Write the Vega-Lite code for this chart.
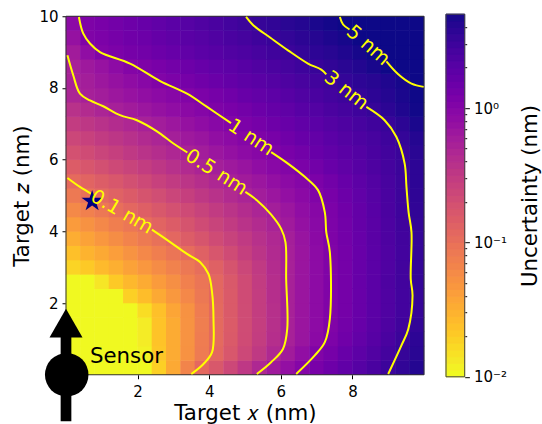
{"$schema":"https://vega.github.io/schema/vega-lite/v6.json","padding":{"left":11,"top":9,"right":40,"bottom":30},"bounds":"flush","center":true,"spacing":22,"config":{"view":{"stroke":null},"font":"DejaVu Sans","axis":{"grid":false,"labelColor":"#000","titleColor":"#000","tickColor":"#000","titleFontWeight":"normal"}},
"datasets":{"grid":[
{"x":0.2,"z":0.2,"u":0.01},{"x":0.6,"z":0.2,"u":0.01},{"x":1,"z":0.2,"u":0.01},{"x":1.4,"z":0.2,"u":0.01},{"x":1.8,"z":0.2,"u":0.01},{"x":2.2,"z":0.2,"u":0.01},{"x":2.6,"z":0.2,"u":0.018},{"x":3,"z":0.2,"u":0.033},{"x":3.4,"z":0.2,"u":0.063},{"x":3.8,"z":0.2,"u":0.11},{"x":4.2,"z":0.2,"u":0.155},{"x":4.6,"z":0.2,"u":0.22},{"x":5,"z":0.2,"u":0.31},{"x":5.4,"z":0.2,"u":0.44},{"x":5.8,"z":0.2,"u":0.59},{"x":6.2,"z":0.2,"u":0.74},{"x":6.6,"z":0.2,"u":0.93},{"x":7,"z":0.2,"u":1.15},{"x":7.4,"z":0.2,"u":1.38},{"x":7.8,"z":0.2,"u":1.66},{"x":8.2,"z":0.2,"u":2},{"x":8.6,"z":0.2,"u":2.4},{"x":9,"z":0.2,"u":2.9},{"x":9.4,"z":0.2,"u":3.4},{"x":9.8,"z":0.2,"u":4},
{"x":0.2,"z":0.6,"u":0.01},{"x":0.6,"z":0.6,"u":0.01},{"x":1,"z":0.6,"u":0.01},{"x":1.4,"z":0.6,"u":0.01},{"x":1.8,"z":0.6,"u":0.01},{"x":2.2,"z":0.6,"u":0.011},{"x":2.6,"z":0.6,"u":0.021},{"x":3,"z":0.6,"u":0.032},{"x":3.4,"z":0.6,"u":0.05},{"x":3.8,"z":0.6,"u":0.076},{"x":4.2,"z":0.6,"u":0.112},{"x":4.6,"z":0.6,"u":0.158},{"x":5,"z":0.6,"u":0.22},{"x":5.4,"z":0.6,"u":0.3},{"x":5.8,"z":0.6,"u":0.43},{"x":6.2,"z":0.6,"u":0.575},{"x":6.6,"z":0.6,"u":0.76},{"x":7,"z":0.6,"u":1},{"x":7.4,"z":0.6,"u":1.2},{"x":7.8,"z":0.6,"u":1.48},{"x":8.2,"z":0.6,"u":1.78},{"x":8.6,"z":0.6,"u":2.15},{"x":9,"z":0.6,"u":2.6},{"x":9.4,"z":0.6,"u":3.16},{"x":9.8,"z":0.6,"u":3.7},
{"x":0.2,"z":1,"u":0.01},{"x":0.6,"z":1,"u":0.01},{"x":1,"z":1,"u":0.01},{"x":1.4,"z":1,"u":0.01},{"x":1.8,"z":1,"u":0.01},{"x":2.2,"z":1,"u":0.012},{"x":2.6,"z":1,"u":0.022},{"x":3,"z":1,"u":0.032},{"x":3.4,"z":1,"u":0.049},{"x":3.8,"z":1,"u":0.074},{"x":4.2,"z":1,"u":0.107},{"x":4.6,"z":1,"u":0.148},{"x":5,"z":1,"u":0.204},{"x":5.4,"z":1,"u":0.275},{"x":5.8,"z":1,"u":0.38},{"x":6.2,"z":1,"u":0.51},{"x":6.6,"z":1,"u":0.66},{"x":7,"z":1,"u":0.85},{"x":7.4,"z":1,"u":1.07},{"x":7.8,"z":1,"u":1.32},{"x":8.2,"z":1,"u":1.62},{"x":8.6,"z":1,"u":1.95},{"x":9,"z":1,"u":2.4},{"x":9.4,"z":1,"u":2.95},{"x":9.8,"z":1,"u":3.55},
{"x":0.2,"z":1.4,"u":0.01},{"x":0.6,"z":1.4,"u":0.01},{"x":1,"z":1.4,"u":0.01},{"x":1.4,"z":1.4,"u":0.01},{"x":1.8,"z":1.4,"u":0.01},{"x":2.2,"z":1.4,"u":0.012},{"x":2.6,"z":1.4,"u":0.022},{"x":3,"z":1.4,"u":0.032},{"x":3.4,"z":1.4,"u":0.049},{"x":3.8,"z":1.4,"u":0.072},{"x":4.2,"z":1.4,"u":0.107},{"x":4.6,"z":1.4,"u":0.145},{"x":5,"z":1.4,"u":0.2},{"x":5.4,"z":1.4,"u":0.27},{"x":5.8,"z":1.4,"u":0.37},{"x":6.2,"z":1.4,"u":0.51},{"x":6.6,"z":1.4,"u":0.65},{"x":7,"z":1.4,"u":0.81},{"x":7.4,"z":1.4,"u":1.02},{"x":7.8,"z":1.4,"u":1.26},{"x":8.2,"z":1.4,"u":1.51},{"x":8.6,"z":1.4,"u":1.86},{"x":9,"z":1.4,"u":2.24},{"x":9.4,"z":1.4,"u":2.75},{"x":9.8,"z":1.4,"u":3.3},
{"x":0.2,"z":1.8,"u":0.01},{"x":0.6,"z":1.8,"u":0.01},{"x":1,"z":1.8,"u":0.01},{"x":1.4,"z":1.8,"u":0.01},{"x":1.8,"z":1.8,"u":0.01},{"x":2.2,"z":1.8,"u":0.015},{"x":2.6,"z":1.8,"u":0.023},{"x":3,"z":1.8,"u":0.035},{"x":3.4,"z":1.8,"u":0.05},{"x":3.8,"z":1.8,"u":0.074},{"x":4.2,"z":1.8,"u":0.107},{"x":4.6,"z":1.8,"u":0.148},{"x":5,"z":1.8,"u":0.2},{"x":5.4,"z":1.8,"u":0.275},{"x":5.8,"z":1.8,"u":0.37},{"x":6.2,"z":1.8,"u":0.51},{"x":6.6,"z":1.8,"u":0.65},{"x":7,"z":1.8,"u":0.81},{"x":7.4,"z":1.8,"u":1.02},{"x":7.8,"z":1.8,"u":1.23},{"x":8.2,"z":1.8,"u":1.48},{"x":8.6,"z":1.8,"u":1.82},{"x":9,"z":1.8,"u":2.19},{"x":9.4,"z":1.8,"u":2.63},{"x":9.8,"z":1.8,"u":3.16},
{"x":0.2,"z":2.2,"u":0.01},{"x":0.6,"z":2.2,"u":0.01},{"x":1,"z":2.2,"u":0.01},{"x":1.4,"z":2.2,"u":0.01},{"x":1.8,"z":2.2,"u":0.018},{"x":2.2,"z":2.2,"u":0.024},{"x":2.6,"z":2.2,"u":0.033},{"x":3,"z":2.2,"u":0.044},{"x":3.4,"z":2.2,"u":0.059},{"x":3.8,"z":2.2,"u":0.081},{"x":4.2,"z":2.2,"u":0.11},{"x":4.6,"z":2.2,"u":0.148},{"x":5,"z":2.2,"u":0.204},{"x":5.4,"z":2.2,"u":0.275},{"x":5.8,"z":2.2,"u":0.38},{"x":6.2,"z":2.2,"u":0.51},{"x":6.6,"z":2.2,"u":0.65},{"x":7,"z":2.2,"u":0.81},{"x":7.4,"z":2.2,"u":1.02},{"x":7.8,"z":2.2,"u":1.23},{"x":8.2,"z":2.2,"u":1.48},{"x":8.6,"z":2.2,"u":1.82},{"x":9,"z":2.2,"u":2.19},{"x":9.4,"z":2.2,"u":2.63},{"x":9.8,"z":2.2,"u":3.16},
{"x":0.2,"z":2.6,"u":0.01},{"x":0.6,"z":2.6,"u":0.01},{"x":1,"z":2.6,"u":0.013},{"x":1.4,"z":2.6,"u":0.02},{"x":1.8,"z":2.6,"u":0.026},{"x":2.2,"z":2.6,"u":0.032},{"x":2.6,"z":2.6,"u":0.042},{"x":3,"z":2.6,"u":0.052},{"x":3.4,"z":2.6,"u":0.068},{"x":3.8,"z":2.6,"u":0.085},{"x":4.2,"z":2.6,"u":0.112},{"x":4.6,"z":2.6,"u":0.151},{"x":5,"z":2.6,"u":0.204},{"x":5.4,"z":2.6,"u":0.28},{"x":5.8,"z":2.6,"u":0.38},{"x":6.2,"z":2.6,"u":0.51},{"x":6.6,"z":2.6,"u":0.65},{"x":7,"z":2.6,"u":0.81},{"x":7.4,"z":2.6,"u":1.02},{"x":7.8,"z":2.6,"u":1.23},{"x":8.2,"z":2.6,"u":1.51},{"x":8.6,"z":2.6,"u":1.82},{"x":9,"z":2.6,"u":2.24},{"x":9.4,"z":2.6,"u":2.69},{"x":9.8,"z":2.6,"u":3.24},
{"x":0.2,"z":3,"u":0.017},{"x":0.6,"z":3,"u":0.02},{"x":1,"z":3,"u":0.025},{"x":1.4,"z":3,"u":0.03},{"x":1.8,"z":3,"u":0.037},{"x":2.2,"z":3,"u":0.045},{"x":2.6,"z":3,"u":0.055},{"x":3,"z":3,"u":0.066},{"x":3.4,"z":3,"u":0.081},{"x":3.8,"z":3,"u":0.098},{"x":4.2,"z":3,"u":0.129},{"x":4.6,"z":3,"u":0.17},{"x":5,"z":3,"u":0.224},{"x":5.4,"z":3,"u":0.295},{"x":5.8,"z":3,"u":0.4},{"x":6.2,"z":3,"u":0.51},{"x":6.6,"z":3,"u":0.65},{"x":7,"z":3,"u":0.81},{"x":7.4,"z":3,"u":1.02},{"x":7.8,"z":3,"u":1.23},{"x":8.2,"z":3,"u":1.51},{"x":8.6,"z":3,"u":1.82},{"x":9,"z":3,"u":2.19},{"x":9.4,"z":3,"u":2.69},{"x":9.8,"z":3,"u":3.24},
{"x":0.2,"z":3.4,"u":0.023},{"x":0.6,"z":3.4,"u":0.028},{"x":1,"z":3.4,"u":0.033},{"x":1.4,"z":3.4,"u":0.04},{"x":1.8,"z":3.4,"u":0.049},{"x":2.2,"z":3.4,"u":0.059},{"x":2.6,"z":3.4,"u":0.071},{"x":3,"z":3.4,"u":0.085},{"x":3.4,"z":3.4,"u":0.102},{"x":3.8,"z":3.4,"u":0.129},{"x":4.2,"z":3.4,"u":0.162},{"x":4.6,"z":3.4,"u":0.204},{"x":5,"z":3.4,"u":0.263},{"x":5.4,"z":3.4,"u":0.33},{"x":5.8,"z":3.4,"u":0.417},{"x":6.2,"z":3.4,"u":0.525},{"x":6.6,"z":3.4,"u":0.65},{"x":7,"z":3.4,"u":0.81},{"x":7.4,"z":3.4,"u":1.02},{"x":7.8,"z":3.4,"u":1.23},{"x":8.2,"z":3.4,"u":1.48},{"x":8.6,"z":3.4,"u":1.82},{"x":9,"z":3.4,"u":2.19},{"x":9.4,"z":3.4,"u":2.63},{"x":9.8,"z":3.4,"u":3.24},
{"x":0.2,"z":3.8,"u":0.031},{"x":0.6,"z":3.8,"u":0.037},{"x":1,"z":3.8,"u":0.045},{"x":1.4,"z":3.8,"u":0.054},{"x":1.8,"z":3.8,"u":0.065},{"x":2.2,"z":3.8,"u":0.078},{"x":2.6,"z":3.8,"u":0.093},{"x":3,"z":3.8,"u":0.112},{"x":3.4,"z":3.8,"u":0.138},{"x":3.8,"z":3.8,"u":0.166},{"x":4.2,"z":3.8,"u":0.204},{"x":4.6,"z":3.8,"u":0.245},{"x":5,"z":3.8,"u":0.295},{"x":5.4,"z":3.8,"u":0.363},{"x":5.8,"z":3.8,"u":0.437},{"x":6.2,"z":3.8,"u":0.537},{"x":6.6,"z":3.8,"u":0.676},{"x":7,"z":3.8,"u":0.85},{"x":7.4,"z":3.8,"u":1.05},{"x":7.8,"z":3.8,"u":1.26},{"x":8.2,"z":3.8,"u":1.51},{"x":8.6,"z":3.8,"u":1.86},{"x":9,"z":3.8,"u":2.24},{"x":9.4,"z":3.8,"u":2.69},{"x":9.8,"z":3.8,"u":3.24},
{"x":0.2,"z":4.2,"u":0.042},{"x":0.6,"z":4.2,"u":0.05},{"x":1,"z":4.2,"u":0.059},{"x":1.4,"z":4.2,"u":0.071},{"x":1.8,"z":4.2,"u":0.083},{"x":2.2,"z":4.2,"u":0.1},{"x":2.6,"z":4.2,"u":0.12},{"x":3,"z":4.2,"u":0.141},{"x":3.4,"z":4.2,"u":0.17},{"x":3.8,"z":4.2,"u":0.204},{"x":4.2,"z":4.2,"u":0.24},{"x":4.6,"z":4.2,"u":0.288},{"x":5,"z":4.2,"u":0.347},{"x":5.4,"z":4.2,"u":0.407},{"x":5.8,"z":4.2,"u":0.49},{"x":6.2,"z":4.2,"u":0.589},{"x":6.6,"z":4.2,"u":0.724},{"x":7,"z":4.2,"u":0.87},{"x":7.4,"z":4.2,"u":1.07},{"x":7.8,"z":4.2,"u":1.29},{"x":8.2,"z":4.2,"u":1.55},{"x":8.6,"z":4.2,"u":1.86},{"x":9,"z":4.2,"u":2.29},{"x":9.4,"z":4.2,"u":2.75},{"x":9.8,"z":4.2,"u":3.31},
{"x":0.2,"z":4.6,"u":0.058},{"x":0.6,"z":4.6,"u":0.068},{"x":1,"z":4.6,"u":0.081},{"x":1.4,"z":4.6,"u":0.095},{"x":1.8,"z":4.6,"u":0.112},{"x":2.2,"z":4.6,"u":0.132},{"x":2.6,"z":4.6,"u":0.155},{"x":3,"z":4.6,"u":0.182},{"x":3.4,"z":4.6,"u":0.209},{"x":3.8,"z":4.6,"u":0.245},{"x":4.2,"z":4.6,"u":0.288},{"x":4.6,"z":4.6,"u":0.339},{"x":5,"z":4.6,"u":0.398},{"x":5.4,"z":4.6,"u":0.468},{"x":5.8,"z":4.6,"u":0.55},{"x":6.2,"z":4.6,"u":0.646},{"x":6.6,"z":4.6,"u":0.776},{"x":7,"z":4.6,"u":0.912},{"x":7.4,"z":4.6,"u":1.1},{"x":7.8,"z":4.6,"u":1.32},{"x":8.2,"z":4.6,"u":1.58},{"x":8.6,"z":4.6,"u":1.91},{"x":9,"z":4.6,"u":2.34},{"x":9.4,"z":4.6,"u":2.82},{"x":9.8,"z":4.6,"u":3.39},
{"x":0.2,"z":5,"u":0.079},{"x":0.6,"z":5,"u":0.093},{"x":1,"z":5,"u":0.107},{"x":1.4,"z":5,"u":0.126},{"x":1.8,"z":5,"u":0.145},{"x":2.2,"z":5,"u":0.17},{"x":2.6,"z":5,"u":0.195},{"x":3,"z":5,"u":0.229},{"x":3.4,"z":5,"u":0.263},{"x":3.8,"z":5,"u":0.309},{"x":4.2,"z":5,"u":0.355},{"x":4.6,"z":5,"u":0.417},{"x":5,"z":5,"u":0.479},{"x":5.4,"z":5,"u":0.562},{"x":5.8,"z":5,"u":0.646},{"x":6.2,"z":5,"u":0.741},{"x":6.6,"z":5,"u":0.851},{"x":7,"z":5,"u":1},{"x":7.4,"z":5,"u":1.17},{"x":7.8,"z":5,"u":1.41},{"x":8.2,"z":5,"u":1.66},{"x":8.6,"z":5,"u":2},{"x":9,"z":5,"u":2.4},{"x":9.4,"z":5,"u":2.88},{"x":9.8,"z":5,"u":3.47},
{"x":0.2,"z":5.4,"u":0.105},{"x":0.6,"z":5.4,"u":0.12},{"x":1,"z":5.4,"u":0.138},{"x":1.4,"z":5.4,"u":0.158},{"x":1.8,"z":5.4,"u":0.186},{"x":2.2,"z":5.4,"u":0.214},{"x":2.6,"z":5.4,"u":0.251},{"x":3,"z":5.4,"u":0.288},{"x":3.4,"z":5.4,"u":0.331},{"x":3.8,"z":5.4,"u":0.38},{"x":4.2,"z":5.4,"u":0.447},{"x":4.6,"z":5.4,"u":0.513},{"x":5,"z":5.4,"u":0.575},{"x":5.4,"z":5.4,"u":0.646},{"x":5.8,"z":5.4,"u":0.741},{"x":6.2,"z":5.4,"u":0.832},{"x":6.6,"z":5.4,"u":0.933},{"x":7,"z":5.4,"u":1.1},{"x":7.4,"z":5.4,"u":1.29},{"x":7.8,"z":5.4,"u":1.51},{"x":8.2,"z":5.4,"u":1.78},{"x":8.6,"z":5.4,"u":2.09},{"x":9,"z":5.4,"u":2.45},{"x":9.4,"z":5.4,"u":2.88},{"x":9.8,"z":5.4,"u":3.55},
{"x":0.2,"z":5.8,"u":0.141},{"x":0.6,"z":5.8,"u":0.162},{"x":1,"z":5.8,"u":0.186},{"x":1.4,"z":5.8,"u":0.214},{"x":1.8,"z":5.8,"u":0.24},{"x":2.2,"z":5.8,"u":0.275},{"x":2.6,"z":5.8,"u":0.316},{"x":3,"z":5.8,"u":0.363},{"x":3.4,"z":5.8,"u":0.417},{"x":3.8,"z":5.8,"u":0.479},{"x":4.2,"z":5.8,"u":0.537},{"x":4.6,"z":5.8,"u":0.603},{"x":5,"z":5.8,"u":0.676},{"x":5.4,"z":5.8,"u":0.776},{"x":5.8,"z":5.8,"u":0.871},{"x":6.2,"z":5.8,"u":0.977},{"x":6.6,"z":5.8,"u":1.12},{"x":7,"z":5.8,"u":1.29},{"x":7.4,"z":5.8,"u":1.48},{"x":7.8,"z":5.8,"u":1.7},{"x":8.2,"z":5.8,"u":1.95},{"x":8.6,"z":5.8,"u":2.24},{"x":9,"z":5.8,"u":2.57},{"x":9.4,"z":5.8,"u":2.95},{"x":9.8,"z":5.8,"u":3.55},
{"x":0.2,"z":6.2,"u":0.182},{"x":0.6,"z":6.2,"u":0.204},{"x":1,"z":6.2,"u":0.234},{"x":1.4,"z":6.2,"u":0.263},{"x":1.8,"z":6.2,"u":0.302},{"x":2.2,"z":6.2,"u":0.347},{"x":2.6,"z":6.2,"u":0.389},{"x":3,"z":6.2,"u":0.447},{"x":3.4,"z":6.2,"u":0.501},{"x":3.8,"z":6.2,"u":0.562},{"x":4.2,"z":6.2,"u":0.646},{"x":4.6,"z":6.2,"u":0.724},{"x":5,"z":6.2,"u":0.813},{"x":5.4,"z":6.2,"u":0.912},{"x":5.8,"z":6.2,"u":1.02},{"x":6.2,"z":6.2,"u":1.15},{"x":6.6,"z":6.2,"u":1.29},{"x":7,"z":6.2,"u":1.48},{"x":7.4,"z":6.2,"u":1.66},{"x":7.8,"z":6.2,"u":1.86},{"x":8.2,"z":6.2,"u":2.09},{"x":8.6,"z":6.2,"u":2.4},{"x":9,"z":6.2,"u":2.69},{"x":9.4,"z":6.2,"u":3.02},{"x":9.8,"z":6.2,"u":3.72},
{"x":0.2,"z":6.6,"u":0.224},{"x":0.6,"z":6.6,"u":0.251},{"x":1,"z":6.6,"u":0.288},{"x":1.4,"z":6.6,"u":0.324},{"x":1.8,"z":6.6,"u":0.363},{"x":2.2,"z":6.6,"u":0.417},{"x":2.6,"z":6.6,"u":0.468},{"x":3,"z":6.6,"u":0.537},{"x":3.4,"z":6.6,"u":0.603},{"x":3.8,"z":6.6,"u":0.661},{"x":4.2,"z":6.6,"u":0.759},{"x":4.6,"z":6.6,"u":0.832},{"x":5,"z":6.6,"u":0.933},{"x":5.4,"z":6.6,"u":1.05},{"x":5.8,"z":6.6,"u":1.17},{"x":6.2,"z":6.6,"u":1.32},{"x":6.6,"z":6.6,"u":1.48},{"x":7,"z":6.6,"u":1.62},{"x":7.4,"z":6.6,"u":1.82},{"x":7.8,"z":6.6,"u":2.04},{"x":8.2,"z":6.6,"u":2.29},{"x":8.6,"z":6.6,"u":2.51},{"x":9,"z":6.6,"u":2.82},{"x":9.4,"z":6.6,"u":3.24},{"x":9.8,"z":6.6,"u":3.98},
{"x":0.2,"z":7,"u":0.282},{"x":0.6,"z":7,"u":0.316},{"x":1,"z":7,"u":0.355},{"x":1.4,"z":7,"u":0.398},{"x":1.8,"z":7,"u":0.447},{"x":2.2,"z":7,"u":0.513},{"x":2.6,"z":7,"u":0.562},{"x":3,"z":7,"u":0.631},{"x":3.4,"z":7,"u":0.708},{"x":3.8,"z":7,"u":0.794},{"x":4.2,"z":7,"u":0.891},{"x":4.6,"z":7,"u":0.977},{"x":5,"z":7,"u":1.1},{"x":5.4,"z":7,"u":1.2},{"x":5.8,"z":7,"u":1.35},{"x":6.2,"z":7,"u":1.48},{"x":6.6,"z":7,"u":1.66},{"x":7,"z":7,"u":1.82},{"x":7.4,"z":7,"u":2.04},{"x":7.8,"z":7,"u":2.24},{"x":8.2,"z":7,"u":2.51},{"x":8.6,"z":7,"u":2.75},{"x":9,"z":7,"u":3.09},{"x":9.4,"z":7,"u":3.63},{"x":9.8,"z":7,"u":4.37},
{"x":0.2,"z":7.4,"u":0.355},{"x":0.6,"z":7.4,"u":0.407},{"x":1,"z":7.4,"u":0.468},{"x":1.4,"z":7.4,"u":0.525},{"x":1.8,"z":7.4,"u":0.575},{"x":2.2,"z":7.4,"u":0.646},{"x":2.6,"z":7.4,"u":0.708},{"x":3,"z":7.4,"u":0.776},{"x":3.4,"z":7.4,"u":0.851},{"x":3.8,"z":7.4,"u":0.933},{"x":4.2,"z":7.4,"u":1.05},{"x":4.6,"z":7.4,"u":1.15},{"x":5,"z":7.4,"u":1.26},{"x":5.4,"z":7.4,"u":1.41},{"x":5.8,"z":7.4,"u":1.55},{"x":6.2,"z":7.4,"u":1.7},{"x":6.6,"z":7.4,"u":1.91},{"x":7,"z":7.4,"u":2.09},{"x":7.4,"z":7.4,"u":2.34},{"x":7.8,"z":7.4,"u":2.57},{"x":8.2,"z":7.4,"u":2.82},{"x":8.6,"z":7.4,"u":3.16},{"x":9,"z":7.4,"u":3.63},{"x":9.4,"z":7.4,"u":4.17},{"x":9.8,"z":7.4,"u":4.79},
{"x":0.2,"z":7.8,"u":0.468},{"x":0.6,"z":7.8,"u":0.525},{"x":1,"z":7.8,"u":0.562},{"x":1.4,"z":7.8,"u":0.631},{"x":1.8,"z":7.8,"u":0.692},{"x":2.2,"z":7.8,"u":0.759},{"x":2.6,"z":7.8,"u":0.832},{"x":3,"z":7.8,"u":0.912},{"x":3.4,"z":7.8,"u":0.99},{"x":3.8,"z":7.8,"u":1.1},{"x":4.2,"z":7.8,"u":1.2},{"x":4.6,"z":7.8,"u":1.32},{"x":5,"z":7.8,"u":1.48},{"x":5.4,"z":7.8,"u":1.62},{"x":5.8,"z":7.8,"u":1.78},{"x":6.2,"z":7.8,"u":1.95},{"x":6.6,"z":7.8,"u":2.19},{"x":7,"z":7.8,"u":2.4},{"x":7.4,"z":7.8,"u":2.63},{"x":7.8,"z":7.8,"u":2.88},{"x":8.2,"z":7.8,"u":3.24},{"x":8.6,"z":7.8,"u":3.55},{"x":9,"z":7.8,"u":3.98},{"x":9.4,"z":7.8,"u":4.37},{"x":9.8,"z":7.8,"u":4.9},
{"x":0.2,"z":8.2,"u":0.501},{"x":0.6,"z":8.2,"u":0.55},{"x":1,"z":8.2,"u":0.631},{"x":1.4,"z":8.2,"u":0.708},{"x":1.8,"z":8.2,"u":0.794},{"x":2.2,"z":8.2,"u":0.891},{"x":2.6,"z":8.2,"u":1},{"x":3,"z":8.2,"u":1.1},{"x":3.4,"z":8.2,"u":1.2},{"x":3.8,"z":8.2,"u":1.32},{"x":4.2,"z":8.2,"u":1.45},{"x":4.6,"z":8.2,"u":1.58},{"x":5,"z":8.2,"u":1.74},{"x":5.4,"z":8.2,"u":1.86},{"x":5.8,"z":8.2,"u":2.04},{"x":6.2,"z":8.2,"u":2.24},{"x":6.6,"z":8.2,"u":2.45},{"x":7,"z":8.2,"u":2.69},{"x":7.4,"z":8.2,"u":2.95},{"x":7.8,"z":8.2,"u":3.24},{"x":8.2,"z":8.2,"u":3.55},{"x":8.6,"z":8.2,"u":3.8},{"x":9,"z":8.2,"u":4.17},{"x":9.4,"z":8.2,"u":4.57},{"x":9.8,"z":8.2,"u":5},
{"x":0.2,"z":8.6,"u":0.513},{"x":0.6,"z":8.6,"u":0.603},{"x":1,"z":8.6,"u":0.692},{"x":1.4,"z":8.6,"u":0.813},{"x":1.8,"z":8.6,"u":0.955},{"x":2.2,"z":8.6,"u":1.05},{"x":2.6,"z":8.6,"u":1.15},{"x":3,"z":8.6,"u":1.26},{"x":3.4,"z":8.6,"u":1.38},{"x":3.8,"z":8.6,"u":1.51},{"x":4.2,"z":8.6,"u":1.66},{"x":4.6,"z":8.6,"u":1.78},{"x":5,"z":8.6,"u":1.95},{"x":5.4,"z":8.6,"u":2.14},{"x":5.8,"z":8.6,"u":2.34},{"x":6.2,"z":8.6,"u":2.57},{"x":6.6,"z":8.6,"u":2.82},{"x":7,"z":8.6,"u":3.09},{"x":7.4,"z":8.6,"u":3.39},{"x":7.8,"z":8.6,"u":3.72},{"x":8.2,"z":8.6,"u":4.07},{"x":8.6,"z":8.6,"u":4.47},{"x":9,"z":8.6,"u":4.9},{"x":9.4,"z":8.6,"u":5.37},{"x":9.8,"z":8.6,"u":5.89},
{"x":0.2,"z":9,"u":0.575},{"x":0.6,"z":9,"u":0.776},{"x":1,"z":9,"u":1},{"x":1.4,"z":9,"u":1.1},{"x":1.8,"z":9,"u":1.2},{"x":2.2,"z":9,"u":1.29},{"x":2.6,"z":9,"u":1.41},{"x":3,"z":9,"u":1.51},{"x":3.4,"z":9,"u":1.66},{"x":3.8,"z":9,"u":1.82},{"x":4.2,"z":9,"u":1.95},{"x":4.6,"z":9,"u":2.14},{"x":5,"z":9,"u":2.29},{"x":5.4,"z":9,"u":2.51},{"x":5.8,"z":9,"u":2.75},{"x":6.2,"z":9,"u":2.95},{"x":6.6,"z":9,"u":3.24},{"x":7,"z":9,"u":3.55},{"x":7.4,"z":9,"u":3.8},{"x":7.8,"z":9,"u":4.17},{"x":8.2,"z":9,"u":4.57},{"x":8.6,"z":9,"u":5},{"x":9,"z":9,"u":5.37},{"x":9.4,"z":9,"u":5.75},{"x":9.8,"z":9,"u":6.31},
{"x":0.2,"z":9.4,"u":0.708},{"x":0.6,"z":9.4,"u":1.02},{"x":1,"z":9.4,"u":1.1},{"x":1.4,"z":9.4,"u":1.2},{"x":1.8,"z":9.4,"u":1.32},{"x":2.2,"z":9.4,"u":1.41},{"x":2.6,"z":9.4,"u":1.55},{"x":3,"z":9.4,"u":1.7},{"x":3.4,"z":9.4,"u":1.86},{"x":3.8,"z":9.4,"u":2},{"x":4.2,"z":9.4,"u":2.19},{"x":4.6,"z":9.4,"u":2.4},{"x":5,"z":9.4,"u":2.57},{"x":5.4,"z":9.4,"u":2.82},{"x":5.8,"z":9.4,"u":3.09},{"x":6.2,"z":9.4,"u":3.31},{"x":6.6,"z":9.4,"u":3.63},{"x":7,"z":9.4,"u":3.89},{"x":7.4,"z":9.4,"u":4.27},{"x":7.8,"z":9.4,"u":4.57},{"x":8.2,"z":9.4,"u":5},{"x":8.6,"z":9.4,"u":5.37},{"x":9,"z":9.4,"u":5.75},{"x":9.4,"z":9.4,"u":6.17},{"x":9.8,"z":9.4,"u":6.76},
{"x":0.2,"z":9.8,"u":0.832},{"x":0.6,"z":9.8,"u":1.05},{"x":1,"z":9.8,"u":1.15},{"x":1.4,"z":9.8,"u":1.26},{"x":1.8,"z":9.8,"u":1.38},{"x":2.2,"z":9.8,"u":1.51},{"x":2.6,"z":9.8,"u":1.66},{"x":3,"z":9.8,"u":1.82},{"x":3.4,"z":9.8,"u":2},{"x":3.8,"z":9.8,"u":2.19},{"x":4.2,"z":9.8,"u":2.4},{"x":4.6,"z":9.8,"u":2.63},{"x":5,"z":9.8,"u":2.88},{"x":5.4,"z":9.8,"u":3.16},{"x":5.8,"z":9.8,"u":3.39},{"x":6.2,"z":9.8,"u":3.72},{"x":6.6,"z":9.8,"u":3.98},{"x":7,"z":9.8,"u":4.37},{"x":7.4,"z":9.8,"u":4.68},{"x":7.8,"z":9.8,"u":5.13},{"x":8.2,"z":9.8,"u":5.5},{"x":8.6,"z":9.8,"u":5.89},{"x":9,"z":9.8,"u":6.31},{"x":9.4,"z":9.8,"u":6.76},{"x":9.8,"z":9.8,"u":7.24}
],
"contours":[
{"seg":"5a","i":1,"x":7.65,"z":9.98},{"seg":"5a","i":2,"x":7.74,"z":9.77},{"seg":"5a","i":3,"x":7.92,"z":9.63},
{"seg":"5b","i":1,"x":8.95,"z":8.74},{"seg":"5b","i":2,"x":9.28,"z":8.38},{"seg":"5b","i":3,"x":9.65,"z":8.12},{"seg":"5b","i":4,"x":9.99,"z":8.03},
{"seg":"3a","i":1,"x":5.03,"z":9.98},{"seg":"3a","i":2,"x":5.23,"z":9.75},{"seg":"3a","i":3,"x":5.71,"z":9.4},{"seg":"3a","i":4,"x":6.2,"z":9.05},{"seg":"3a","i":5,"x":6.76,"z":8.68},{"seg":"3a","i":6,"x":7.13,"z":8.51},{"seg":"3a","i":7,"x":7.27,"z":8.38},
{"seg":"3b","i":1,"x":8.39,"z":7.47},{"seg":"3b","i":2,"x":8.9,"z":7.1},{"seg":"3b","i":3,"x":9.23,"z":6.63},{"seg":"3b","i":4,"x":9.46,"z":5.89},{"seg":"3b","i":5,"x":9.51,"z":5.24},{"seg":"3b","i":6,"x":9.57,"z":4.53},{"seg":"3b","i":7,"x":9.65,"z":3.98},{"seg":"3b","i":8,"x":9.63,"z":2.67},{"seg":"3b","i":9,"x":9.68,"z":2.21},{"seg":"3b","i":10,"x":9.56,"z":1.27},{"seg":"3b","i":11,"x":9.37,"z":0.82},{"seg":"3b","i":12,"x":9,"z":0.02},
{"seg":"1a","i":1,"x":0.36,"z":9.98},{"seg":"1a","i":2,"x":0.48,"z":9.52},{"seg":"1a","i":3,"x":0.67,"z":9.24},{"seg":"1a","i":4,"x":0.95,"z":9},{"seg":"1a","i":5,"x":1.79,"z":8.68},{"seg":"1a","i":6,"x":2.63,"z":8.19},{"seg":"1a","i":7,"x":3.38,"z":7.84},{"seg":"1a","i":8,"x":3.94,"z":7.47},{"seg":"1a","i":9,"x":4.61,"z":7.02},
{"seg":"1b","i":1,"x":5.73,"z":6.21},{"seg":"1b","i":2,"x":6.2,"z":5.89},{"seg":"1b","i":3,"x":6.67,"z":5.52},{"seg":"1b","i":4,"x":7.04,"z":5.15},{"seg":"1b","i":5,"x":7.23,"z":4.53},{"seg":"1b","i":6,"x":7.27,"z":3.98},{"seg":"1b","i":7,"x":7.37,"z":3.42},{"seg":"1b","i":8,"x":7.37,"z":1.56},{"seg":"1b","i":9,"x":7.23,"z":0.91},{"seg":"1b","i":10,"x":6.95,"z":0.54},{"seg":"1b","i":11,"x":6.43,"z":0.02},
{"seg":"05a","i":1,"x":0.04,"z":8.91},{"seg":"05a","i":2,"x":0.2,"z":8.36},{"seg":"05a","i":3,"x":0.39,"z":7.84},{"seg":"05a","i":4,"x":0.67,"z":7.65},{"seg":"05a","i":5,"x":1.04,"z":7.49},{"seg":"05a","i":6,"x":1.51,"z":7.24},{"seg":"05a","i":7,"x":1.98,"z":7.1},{"seg":"05a","i":8,"x":2.54,"z":6.79},{"seg":"05a","i":9,"x":3,"z":6.45},{"seg":"05a","i":10,"x":3.39,"z":6.2},
{"seg":"05b","i":1,"x":5.01,"z":5.1},{"seg":"05b","i":2,"x":5.33,"z":4.87},{"seg":"05b","i":3,"x":5.72,"z":4.48},{"seg":"05b","i":5,"x":6.01,"z":4.07},{"seg":"05b","i":6,"x":6.13,"z":3.7},{"seg":"05b","i":7,"x":6.15,"z":2.67},{"seg":"05b","i":8,"x":6.18,"z":1.28},{"seg":"05b","i":9,"x":6.06,"z":0.72},{"seg":"05b","i":10,"x":5.73,"z":0.35},{"seg":"05b","i":11,"x":5.33,"z":0.02},
{"seg":"01a","i":1,"x":0.04,"z":5.49},{"seg":"01a","i":2,"x":0.39,"z":5.24},{"seg":"01a","i":3,"x":0.72,"z":5.04},
{"seg":"01b","i":1,"x":2.4,"z":4.05},{"seg":"01b","i":2,"x":2.91,"z":3.7},{"seg":"01b","i":3,"x":3.38,"z":3.37},{"seg":"01b","i":4,"x":3.75,"z":3.14},{"seg":"01b","i":5,"x":3.98,"z":2.81},{"seg":"01b","i":6,"x":4.08,"z":2.3},{"seg":"01b","i":7,"x":4.12,"z":1.56},{"seg":"01b","i":8,"x":4.08,"z":0.63},{"seg":"01b","i":9,"x":3.84,"z":0.3},{"seg":"01b","i":10,"x":3.5,"z":0.02}
],
"bar":[
{"u":0.01,"u2":0.0112},{"u":0.0112,"u2":0.0126},{"u":0.0126,"u2":0.0141},{"u":0.0141,"u2":0.0158},{"u":0.0158,"u2":0.0178},{"u":0.0178,"u2":0.02},{"u":0.02,"u2":0.0224},{"u":0.0224,"u2":0.0251},{"u":0.0251,"u2":0.0282},{"u":0.0282,"u2":0.0316},{"u":0.0316,"u2":0.0355},{"u":0.0355,"u2":0.0398},{"u":0.0398,"u2":0.0447},{"u":0.0447,"u2":0.0501},{"u":0.0501,"u2":0.0562},{"u":0.0562,"u2":0.0631},{"u":0.0631,"u2":0.0708},{"u":0.0708,"u2":0.0794},{"u":0.0794,"u2":0.0891},{"u":0.0891,"u2":0.1},
{"u":0.1,"u2":0.112},{"u":0.112,"u2":0.126},{"u":0.126,"u2":0.141},{"u":0.141,"u2":0.158},{"u":0.158,"u2":0.178},{"u":0.178,"u2":0.2},{"u":0.2,"u2":0.224},{"u":0.224,"u2":0.251},{"u":0.251,"u2":0.282},{"u":0.282,"u2":0.316},{"u":0.316,"u2":0.355},{"u":0.355,"u2":0.398},{"u":0.398,"u2":0.447},{"u":0.447,"u2":0.501},{"u":0.501,"u2":0.562},{"u":0.562,"u2":0.631},{"u":0.631,"u2":0.708},{"u":0.708,"u2":0.794},{"u":0.794,"u2":0.891},{"u":0.891,"u2":1},
{"u":1,"u2":1.12},{"u":1.12,"u2":1.26},{"u":1.26,"u2":1.41},{"u":1.41,"u2":1.58},{"u":1.58,"u2":1.78},{"u":1.78,"u2":2},{"u":2,"u2":2.24},{"u":2.24,"u2":2.51},{"u":2.51,"u2":2.82},{"u":2.82,"u2":3.16},{"u":3.16,"u2":3.55},{"u":3.55,"u2":3.98},{"u":3.98,"u2":4.47},{"u":4.47,"u2":5}
]},
"hconcat":[
{"width":358,"height":358.5,
"encoding":{"x":{"type":"quantitative","scale":{"domain":[0,10],"nice":false}},"y":{"type":"quantitative","scale":{"domain":[0,10],"nice":false}}},
"layer":[
{"data":{"name":"grid"},"mark":{"type":"rect","width":14.8,"height":14.9},"encoding":{
"x":{"field":"x","type":"quantitative","scale":{"domain":[0,10],"nice":false},"axis":{"values":[2,4,6,8],"title":"Target 𝑥 (nm)","domain":false,"labelFontSize":15,"titleFontSize":21.3,"tickSize":4,"labelPadding":6,"titlePadding":3,"labelFlush":false}},
"y":{"field":"z","type":"quantitative","scale":{"domain":[0,10],"nice":false},"axis":{"values":[2,4,6,8,10],"title":"Target 𝑧 (nm)","domain":false,"labelFontSize":15,"titleFontSize":21.3,"tickSize":4,"labelPadding":4,"titlePadding":6,"labelFlush":false}},
"color":{"field":"u","type":"quantitative","legend":null,"scale":{"type":"log","domain":[0.01,5],"scheme":"plasma","reverse":true,"clamp":true}}}},
{"data":{"values":[{"x0":0,"x1":10,"z0":0,"z1":10}]},"mark":{"type":"rect","filled":false,"stroke":"#333","strokeWidth":1,"clip":false},"encoding":{"x":{"field":"x0","type":"quantitative"},"x2":{"field":"x1"},"y":{"field":"z0","type":"quantitative"},"y2":{"field":"z1"}}},
{"data":{"name":"contours"},"mark":{"type":"line","stroke":"#ffff00","strokeWidth":2,"interpolate":"catmull-rom"},"encoding":{"x":{"field":"x","type":"quantitative"},"y":{"field":"z","type":"quantitative"},"detail":{"field":"seg"},"order":{"field":"i"}}},
{"data":{"values":[{"x":0.73,"z":4.84}]},"mark":{"type":"point","shape":"M0,-1L0.2245,-0.309L0.951,-0.309L0.363,0.118L0.588,0.809L0,0.382L-0.588,0.809L-0.363,0.118L-0.951,-0.309L-0.2245,-0.309Z","filled":true,"size":500,"color":"#000080","opacity":1},"encoding":{"x":{"field":"x","type":"quantitative"},"y":{"field":"z","type":"quantitative"}}},
{"data":{"values":[{"x":1.56,"z":4.54,"t":"0.1 nm"}]},"mark":{"type":"text","color":"#ffff00","fontSize":19.5,"angle":30},"encoding":{"x":{"field":"x","type":"quantitative"},"y":{"field":"z","type":"quantitative"},"text":{"field":"t"}}},
{"data":{"values":[{"x":4.2,"z":5.65,"t":"0.5 nm"}]},"mark":{"type":"text","color":"#ffff00","fontSize":19.5,"angle":32},"encoding":{"x":{"field":"x","type":"quantitative"},"y":{"field":"z","type":"quantitative"},"text":{"field":"t"}}},
{"data":{"values":[{"x":5.17,"z":6.62,"t":"1 nm"}]},"mark":{"type":"text","color":"#ffff00","fontSize":19.5,"angle":33},"encoding":{"x":{"field":"x","type":"quantitative"},"y":{"field":"z","type":"quantitative"},"text":{"field":"t"}}},
{"data":{"values":[{"x":7.83,"z":7.93,"t":"3 nm"}]},"mark":{"type":"text","color":"#ffff00","fontSize":19.5,"angle":38},"encoding":{"x":{"field":"x","type":"quantitative"},"y":{"field":"z","type":"quantitative"},"text":{"field":"t"}}},
{"data":{"values":[{"x":8.44,"z":9.19,"t":"5 nm"}]},"mark":{"type":"text","color":"#ffff00","fontSize":19.5,"angle":41},"encoding":{"x":{"field":"x","type":"quantitative"},"y":{"field":"z","type":"quantitative"},"text":{"field":"t"}}},
{"data":{"values":[{"x":0,"z":-1.3,"z2":1.3}]},"mark":{"type":"rule","color":"#000","strokeWidth":10.7,"clip":false},"encoding":{"x":{"field":"x","type":"quantitative"},"y":{"field":"z","type":"quantitative"},"y2":{"field":"z2"}}},
{"data":{"values":[{"x":0,"z":1.44}]},"mark":{"type":"point","shape":"triangle-up","filled":true,"size":1089,"color":"#000","opacity":1,"clip":false},"encoding":{"x":{"field":"x","type":"quantitative"},"y":{"field":"z","type":"quantitative"}}},
{"data":{"values":[{"x":0.02,"z":0}]},"mark":{"type":"point","shape":"circle","filled":true,"size":1892,"color":"#000","opacity":1,"clip":false},"encoding":{"x":{"field":"x","type":"quantitative"},"y":{"field":"z","type":"quantitative"}}},
{"data":{"values":[{"x":0.67,"z":0.49,"t":"Sensor"}]},"mark":{"type":"text","color":"#000","fontSize":21.3,"align":"left"},"encoding":{"x":{"field":"x","type":"quantitative"},"y":{"field":"z","type":"quantitative"},"text":{"field":"t"}}}
]},
{"width":18.7,"height":362.6,"data":{"name":"bar"},
"layer":[
{"mark":{"type":"rect"},"encoding":{
"y":{"field":"u","type":"quantitative","scale":{"type":"log","domain":[0.01,5],"nice":false},"axis":{"orient":"right","title":"Uncertainty (nm)","titleAngle":270,"domain":false,"values":[0.01,0.02,0.03,0.04,0.05,0.06,0.07,0.08,0.09,0.1,0.2,0.3,0.4,0.5,0.6,0.7,0.8,0.9,1,2,3,4],"labelExpr":"datum.value==1?'10⁰':datum.value==0.1?'10⁻¹':datum.value==0.01?'10⁻²':''","labelFontSize":15,"titleFontSize":21.3,"labelPadding":4,"titlePadding":34,"labelOverlap":false,"labelFlush":false,"tickSize":{"condition":{"test":"datum.value==1||datum.value==0.1||datum.value==0.01","value":4.7},"value":2}}},
"y2":{"field":"u2"},
"color":{"field":"u","type":"quantitative","legend":null,"scale":{"type":"log","domain":[0.01,5],"scheme":"plasma","reverse":true,"clamp":true}},
"stroke":{"field":"u","type":"quantitative","legend":null,"scale":{"type":"log","domain":[0.01,5],"scheme":"plasma","reverse":true,"clamp":true}}}},
{"data":{"values":[{"lo":0.01,"hi":5}]},"mark":{"type":"rect","filled":false,"stroke":"#444","strokeWidth":1},"encoding":{"y":{"field":"lo","type":"quantitative"},"y2":{"field":"hi"}}}
]}
]}
